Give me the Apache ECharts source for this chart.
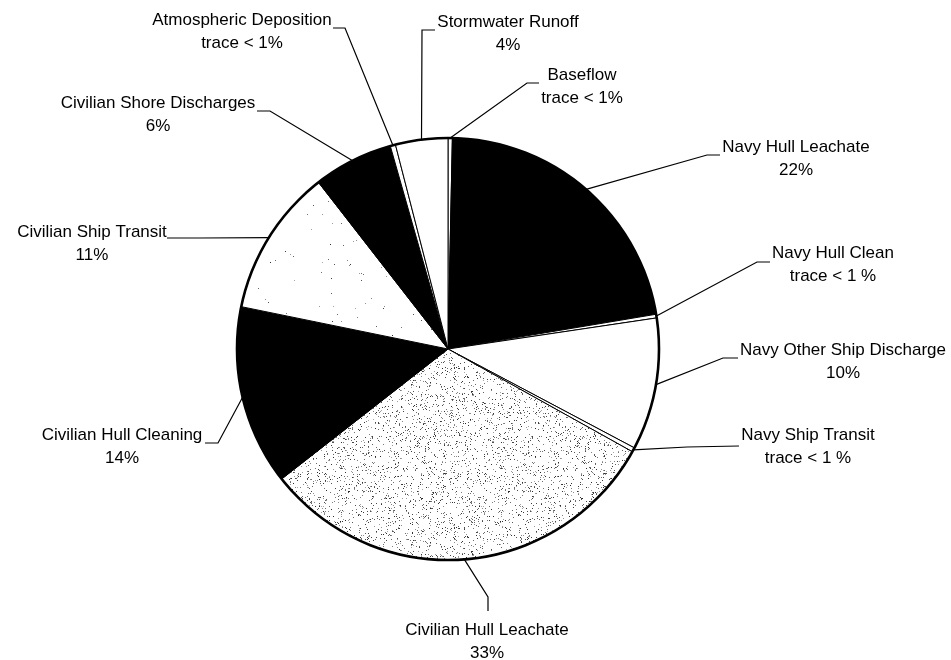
<!DOCTYPE html>
<html><head><meta charset="utf-8">
<script src="https://cdn.jsdelivr.net/npm/echarts/dist/echarts.min.js"></script>
<style>html,body{margin:0;padding:0;background:#fff}#c{width:951px;height:660px}</style>
</head><body><div id="c"></div>
<script>
// ---- data ----
const categories = ['Baseflow','Navy Hull Leachate','Navy Hull Clean','Navy Other Ship Discharge','Navy Ship Transit','Civilian Hull Leachate','Civilian Hull Cleaning','Civilian Ship Transit','Civilian Shore Discharges','Atmospheric Deposition','Stormwater Runoff'];
const values = [0.33, 22.0, 0.28, 10.1, 0.33, 31.3, 13.75, 11.25, 6.1, 0.4, 4.0];
const valueLabels = ['trace < 1%','22%','trace < 1 %','10%','trace < 1 %','33%','14%','11%','6%','trace < 1%','4%'];

// ---- styles / layout (not data) ----
const fills = ['white','black','white','white','white','stipple','black','light','black','white','white'];
const labelPos = [
 {x:582,y:75,  elbow:[527,83],  end:[539,83]},
 {x:796,y:147, elbow:[707,155], end:[720,155]},
 {x:833,y:253, elbow:[757,262], end:[770,262]},
 {x:843,y:350, elbow:[723,358], end:[738,358]},
 {x:808,y:435, elbow:[687,447], end:[739,446]},
 {x:487,y:630, elbow:[488,597], end:[488,611]},
 {x:122,y:435, elbow:[218,443], end:[205,443]},
 {x:92, y:232, elbow:[200,238], end:[167,238]},
 {x:158,y:103, elbow:[270,111], end:[257,111]},
 {x:242,y:20,  elbow:[345,28],  end:[333,28]},
 {x:508,y:22,  elbow:[422,30],  end:[435,30]}
];

function makeStipple(density, seed){
  const size = 160;
  const c = document.createElement('canvas'); c.width = c.height = size;
  const g = c.getContext('2d'); g.fillStyle = '#fff'; g.fillRect(0,0,size,size);
  let s = seed >>> 0;
  const rnd = () => { s = (Math.imul(s, 1664525) + 1013904223) >>> 0; return s / 4294967296; };
  const n = Math.round(size*size*density);
  for (let i=0;i<n;i++){
    const x = Math.floor(rnd()*size), y = Math.floor(rnd()*size);
    const v = Math.floor(40 + rnd()*130);
    g.fillStyle = 'rgb('+v+','+v+','+v+')';
    g.fillRect(x,y,1,1);
  }
  return c;
}
const stipple = makeStipple(0.085, 7);
const light = makeStipple(0.004, 99);
function fillColor(k){
  if (k==='black') return '#000';
  if (k==='white') return '#fff';
  if (k==='stipple') return {image: stipple, repeat: 'repeat'};
  return {image: light, repeat: 'repeat'};
}

const data = categories.map((n,i)=>({name:n, value:values[i], itemStyle:{color: fillColor(fills[i])}}));
const chart = echarts.init(document.getElementById('c'), null, {renderer:'canvas'});
const CENTER = [448,349], R = 211;
chart.setOption({
  animation:false,
  backgroundColor:'#fff',
  series:[{
    type:'pie', center:CENTER, radius:R, startAngle:90, clockwise:true,
    avoidLabelOverlap:false, minShowLabelAngle:0, silent:true,
    data:data,
    itemStyle:{borderColor:'#000', borderWidth:1},
    emphasis:{disabled:true},
    label:{show:true, position:'outside', color:'#000',
      fontFamily:'Liberation Sans, Arial, sans-serif', fontSize:17, lineHeight:23, align:'center',
      formatter:(p)=>p.name+'\n'+valueLabels[p.dataIndex]},
    labelLine:{show:true, length:10, length2:10, smooth:false, lineStyle:{color:'#000', width:1.2}},
    labelLayout:(p)=>{
      const L = labelPos[p.dataIndex];
      const p0 = p.labelLinePoints ? p.labelLinePoints[0] : L.elbow;
      return {x:L.x, y:L.y+11.5, align:'center', verticalAlign:'middle',
        labelLinePoints:[p0, L.elbow, L.end]};
    }
  },{
    type:'pie', center:CENTER, radius:R, silent:true, z:5,
    data:[{value:1,name:'outline'}],
    itemStyle:{color:'rgba(0,0,0,0)', borderColor:'#000', borderWidth:2.6},
    label:{show:false}, labelLine:{show:false}, emphasis:{disabled:true}
  }]
});
</script>
</body></html>
